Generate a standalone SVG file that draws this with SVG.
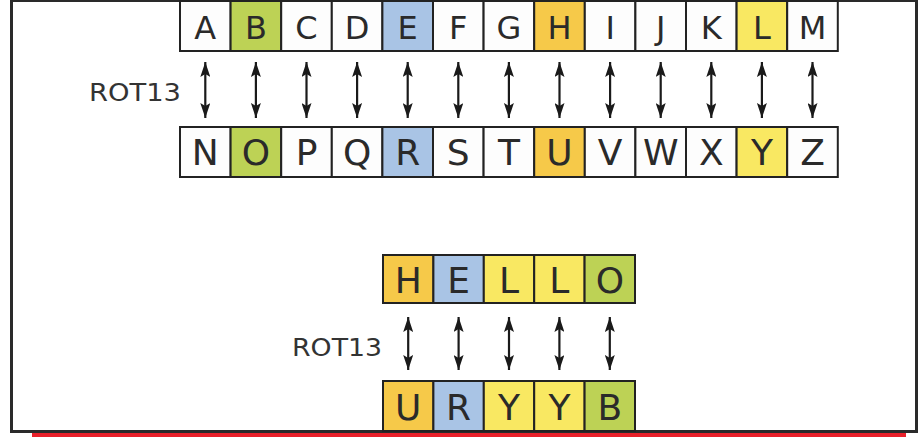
<svg xmlns="http://www.w3.org/2000/svg" width="920" height="437" viewBox="0 0 920 437">
  <defs>
    <style>
      .cell { stroke: #222; stroke-width: 2; }
      .w { fill: #fdfdfd; }
      .g { fill: #bdd255; }
      .b { fill: #a9c4e5; }
      .o { fill: #f6c949; }
      .y { fill: #f9e862; }
      .t1 { font-family: "DejaVu Sans", "Liberation Sans", sans-serif; font-size: 32px; fill: #2a2a2a; text-anchor: middle; }
      .t2 { font-family: "DejaVu Sans", "Liberation Sans", sans-serif; font-size: 36px; fill: #2a2a2a; text-anchor: middle; }
      .lbl { font-family: "DejaVu Sans", "Liberation Sans", sans-serif; font-size: 24px; fill: #333; }
      .arr { stroke: #1a1a1a; stroke-width: 2.2; fill: none; marker-start: url(#ah); marker-end: url(#ah); }
    </style>
    <marker id="ah" viewBox="0 0 15 10" refX="15" refY="5" markerWidth="15" markerHeight="10" markerUnits="userSpaceOnUse" orient="auto-start-reverse">
      <path d="M0,0 L15,5 L0,10 L3,5 z" fill="#1a1a1a"/>
    </marker>
  </defs>
  <rect x="0" y="0" width="920" height="437" fill="#ffffff"/>
  <rect x="11.5" y="0.5" width="905" height="431" fill="none" stroke="#2a2a2a" stroke-width="3"/>
  <rect x="32" y="433" width="874" height="4" fill="#e8202a"/>

  <!-- top row -->
  <g id="cell-A"><rect class="cell w" x="180" y="1" width="50.6" height="50"/><text class="t1" x="205.3" y="39">A</text></g>
  <g id="cell-B"><rect class="cell g" x="230.6" y="1" width="50.6" height="50"/><text class="t1" x="255.9" y="39">B</text></g>
  <g id="cell-C"><rect class="cell w" x="281.2" y="1" width="50.6" height="50"/><text class="t1" x="306.5" y="39">C</text></g>
  <g id="cell-D"><rect class="cell w" x="331.8" y="1" width="50.6" height="50"/><text class="t1" x="357.1" y="39">D</text></g>
  <g id="cell-E"><rect class="cell b" x="382.4" y="1" width="50.6" height="50"/><text class="t1" x="407.7" y="39">E</text></g>
  <g id="cell-F"><rect class="cell w" x="433" y="1" width="50.6" height="50"/><text class="t1" x="458.3" y="39">F</text></g>
  <g id="cell-G"><rect class="cell w" x="483.6" y="1" width="50.6" height="50"/><text class="t1" x="508.9" y="39">G</text></g>
  <g id="cell-H"><rect class="cell o" x="534.2" y="1" width="50.6" height="50"/><text class="t1" x="559.5" y="39">H</text></g>
  <g id="cell-I"><rect class="cell w" x="584.8" y="1" width="50.6" height="50"/><text class="t1" x="610.1" y="39">I</text></g>
  <g id="cell-J"><rect class="cell w" x="635.4" y="1" width="50.6" height="50"/><text class="t1" x="660.7" y="39">J</text></g>
  <g id="cell-K"><rect class="cell w" x="686" y="1" width="50.6" height="50"/><text class="t1" x="711.3" y="39">K</text></g>
  <g id="cell-L"><rect class="cell y" x="736.6" y="1" width="50.6" height="50"/><text class="t1" x="761.9" y="39">L</text></g>
  <g id="cell-M"><rect class="cell w" x="787.2" y="1" width="50.6" height="50"/><text class="t1" x="812.5" y="39">M</text></g>

  <!-- second row -->
  <g id="cell-N"><rect class="cell w" x="180" y="127" width="50.6" height="50"/><text class="t2" x="205.3" y="165">N</text></g>
  <g id="cell-O"><rect class="cell g" x="230.6" y="127" width="50.6" height="50"/><text class="t2" x="255.9" y="165">O</text></g>
  <g id="cell-P"><rect class="cell w" x="281.2" y="127" width="50.6" height="50"/><text class="t2" x="306.5" y="165">P</text></g>
  <g id="cell-Q"><rect class="cell w" x="331.8" y="127" width="50.6" height="50"/><text class="t2" x="357.1" y="165">Q</text></g>
  <g id="cell-R"><rect class="cell b" x="382.4" y="127" width="50.6" height="50"/><text class="t2" x="407.7" y="165">R</text></g>
  <g id="cell-S"><rect class="cell w" x="433" y="127" width="50.6" height="50"/><text class="t2" x="458.3" y="165">S</text></g>
  <g id="cell-T"><rect class="cell w" x="483.6" y="127" width="50.6" height="50"/><text class="t2" x="508.9" y="165">T</text></g>
  <g id="cell-U"><rect class="cell o" x="534.2" y="127" width="50.6" height="50"/><text class="t2" x="559.5" y="165">U</text></g>
  <g id="cell-V"><rect class="cell w" x="584.8" y="127" width="50.6" height="50"/><text class="t2" x="610.1" y="165">V</text></g>
  <g id="cell-W"><rect class="cell w" x="635.4" y="127" width="50.6" height="50"/><text class="t2" x="660.7" y="165">W</text></g>
  <g id="cell-X"><rect class="cell w" x="686" y="127" width="50.6" height="50"/><text class="t2" x="711.3" y="165">X</text></g>
  <g id="cell-Y"><rect class="cell y" x="736.6" y="127" width="50.6" height="50"/><text class="t2" x="761.9" y="165">Y</text></g>
  <g id="cell-Z"><rect class="cell w" x="787.2" y="127" width="50.6" height="50"/><text class="t2" x="812.5" y="165">Z</text></g>

  <!-- HELLO -->
  <g id="hello-H"><rect class="cell o" x="383" y="255" width="50.4" height="48"/><text class="t2" x="408.2" y="293">H</text></g>
  <g id="hello-E"><rect class="cell b" x="433.4" y="255" width="50.4" height="48"/><text class="t2" x="458.6" y="293">E</text></g>
  <g id="hello-L1"><rect class="cell y" x="483.8" y="255" width="50.4" height="48"/><text class="t2" x="509" y="293">L</text></g>
  <g id="hello-L2"><rect class="cell y" x="534.2" y="255" width="50.4" height="48"/><text class="t2" x="559.4" y="293">L</text></g>
  <g id="hello-O"><rect class="cell g" x="584.6" y="255" width="50.4" height="48"/><text class="t2" x="609.8" y="293">O</text></g>

  <!-- URYYB -->
  <g id="uryyb-U"><rect class="cell o" x="383" y="381" width="50.4" height="50"/><text class="t2" x="408.2" y="420">U</text></g>
  <g id="uryyb-R"><rect class="cell b" x="433.4" y="381" width="50.4" height="50"/><text class="t2" x="458.6" y="420">R</text></g>
  <g id="uryyb-Y1"><rect class="cell y" x="483.8" y="381" width="50.4" height="50"/><text class="t2" x="509" y="420">Y</text></g>
  <g id="uryyb-Y2"><rect class="cell y" x="534.2" y="381" width="50.4" height="50"/><text class="t2" x="559.4" y="420">Y</text></g>
  <g id="uryyb-B"><rect class="cell g" x="584.6" y="381" width="50.4" height="50"/><text class="t2" x="609.8" y="420">B</text></g>

  <g id="labels">
    <text class="lbl" x="89" y="101" textLength="92" lengthAdjust="spacingAndGlyphs">ROT13</text>
    <text class="lbl" x="292" y="356" textLength="90" lengthAdjust="spacingAndGlyphs">ROT13</text>
  </g>

  <g id="connectors">
    <path class="arr" d="M205.3,62 V118"/>
    <path class="arr" d="M255.9,62 V118"/>
    <path class="arr" d="M306.5,62 V118"/>
    <path class="arr" d="M357.1,62 V118"/>
    <path class="arr" d="M407.7,62 V118"/>
    <path class="arr" d="M458.3,62 V118"/>
    <path class="arr" d="M508.9,62 V118"/>
    <path class="arr" d="M559.5,62 V118"/>
    <path class="arr" d="M610.1,62 V118"/>
    <path class="arr" d="M660.7,62 V118"/>
    <path class="arr" d="M711.3,62 V118"/>
    <path class="arr" d="M761.9,62 V118"/>
    <path class="arr" d="M812.5,62 V118"/>
    <path class="arr" d="M408.2,317 V370"/>
    <path class="arr" d="M458.6,317 V370"/>
    <path class="arr" d="M509,317 V370"/>
    <path class="arr" d="M559.4,317 V370"/>
    <path class="arr" d="M609.8,317 V370"/>
  </g>
</svg>
